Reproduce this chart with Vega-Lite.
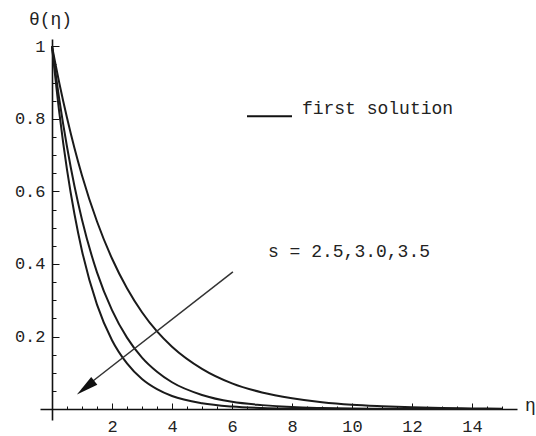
{
  "$schema": "https://vega.github.io/schema/vega-lite/v6.json",
  "width": 477,
  "height": 381,
  "autosize": {"type": "none"},
  "padding": {"left": 40, "top": 39, "right": 19, "bottom": 16},
  "background": "white",
  "config": {
    "view": {"stroke": null},
    "font": "Liberation Mono",
    "text": {"font": "Liberation Mono", "fontSize": 18, "color": "#222"}
  },
  "datasets": {
    "curves": [
      {"s": "2.5", "eta": 0, "theta": 1}, {"s": "2.5", "eta": 0.25, "theta": 0.896}, {"s": "2.5", "eta": 0.5, "theta": 0.803}, {"s": "2.5", "eta": 0.75, "theta": 0.719}, {"s": "2.5", "eta": 1, "theta": 0.644}, {"s": "2.5", "eta": 1.5, "theta": 0.517}, {"s": "2.5", "eta": 2, "theta": 0.415}, {"s": "2.5", "eta": 2.5, "theta": 0.333}, {"s": "2.5", "eta": 3, "theta": 0.267}, {"s": "2.5", "eta": 3.5, "theta": 0.214}, {"s": "2.5", "eta": 4, "theta": 0.172}, {"s": "2.5", "eta": 5, "theta": 0.111}, {"s": "2.5", "eta": 6, "theta": 0.071}, {"s": "2.5", "eta": 7, "theta": 0.046}, {"s": "2.5", "eta": 8, "theta": 0.03}, {"s": "2.5", "eta": 9, "theta": 0.019}, {"s": "2.5", "eta": 10, "theta": 0.012}, {"s": "2.5", "eta": 11, "theta": 0.008}, {"s": "2.5", "eta": 12, "theta": 0.005}, {"s": "2.5", "eta": 13, "theta": 0.003}, {"s": "2.5", "eta": 14, "theta": 0.002}, {"s": "2.5", "eta": 15, "theta": 0.001},
      {"s": "3.0", "eta": 0, "theta": 1}, {"s": "3.0", "eta": 0.25, "theta": 0.85}, {"s": "3.0", "eta": 0.5, "theta": 0.723}, {"s": "3.0", "eta": 0.75, "theta": 0.614}, {"s": "3.0", "eta": 1, "theta": 0.522}, {"s": "3.0", "eta": 1.5, "theta": 0.377}, {"s": "3.0", "eta": 2, "theta": 0.273}, {"s": "3.0", "eta": 2.5, "theta": 0.197}, {"s": "3.0", "eta": 3, "theta": 0.142}, {"s": "3.0", "eta": 3.5, "theta": 0.103}, {"s": "3.0", "eta": 4, "theta": 0.074}, {"s": "3.0", "eta": 5, "theta": 0.039}, {"s": "3.0", "eta": 6, "theta": 0.02}, {"s": "3.0", "eta": 7, "theta": 0.011}, {"s": "3.0", "eta": 8, "theta": 0.0055}, {"s": "3.0", "eta": 9, "theta": 0.003}, {"s": "3.0", "eta": 10, "theta": 0.0015}, {"s": "3.0", "eta": 11, "theta": 0.001}, {"s": "3.0", "eta": 12, "theta": 0.0005}, {"s": "3.0", "eta": 13, "theta": 0.0002}, {"s": "3.0", "eta": 14, "theta": 0.0001}, {"s": "3.0", "eta": 15, "theta": 0},
      {"s": "3.5", "eta": 0, "theta": 1}, {"s": "3.5", "eta": 0.25, "theta": 0.813}, {"s": "3.5", "eta": 0.5, "theta": 0.66}, {"s": "3.5", "eta": 0.75, "theta": 0.537}, {"s": "3.5", "eta": 1, "theta": 0.436}, {"s": "3.5", "eta": 1.5, "theta": 0.288}, {"s": "3.5", "eta": 2, "theta": 0.19}, {"s": "3.5", "eta": 2.5, "theta": 0.126}, {"s": "3.5", "eta": 3, "theta": 0.083}, {"s": "3.5", "eta": 3.5, "theta": 0.055}, {"s": "3.5", "eta": 4, "theta": 0.036}, {"s": "3.5", "eta": 5, "theta": 0.016}, {"s": "3.5", "eta": 6, "theta": 0.007}, {"s": "3.5", "eta": 7, "theta": 0.003}, {"s": "3.5", "eta": 8, "theta": 0.0013}, {"s": "3.5", "eta": 9, "theta": 0.0006}, {"s": "3.5", "eta": 10, "theta": 0.0002}, {"s": "3.5", "eta": 11, "theta": 0.0001}, {"s": "3.5", "eta": 12, "theta": 0}, {"s": "3.5", "eta": 13, "theta": 0}, {"s": "3.5", "eta": 14, "theta": 0}, {"s": "3.5", "eta": 15, "theta": 0}
    ],
    "arrow": [
      {"eta": 6.03, "theta": 0.378, "order": 1},
      {"eta": 1.0, "theta": 0.054, "order": 2}
    ],
    "arrowhead": [
      {"eta": 1.12, "theta": 0.059}
    ],
    "legendline": [
      {"eta": 6.5, "eta2": 8.0, "theta": 0.807}
    ],
    "notes": [
      {"eta": 8.33, "theta": 0.826, "text": "first solution"},
      {"eta": 7.2, "theta": 0.434, "text": "s = 2.5,3.0,3.5"}
    ]
  },
  "resolve": {
    "scale": {"x": "independent", "y": "independent"},
    "axis": {"x": "independent", "y": "independent"}
  },
  "layer": [
    {
      "encoding": {
        "x": {
          "field": "eta", "type": "quantitative",
          "scale": {"domain": [-0.4, 15.5], "nice": false, "zero": false},
          "axis": {
            "orient": "bottom",
            "offset": -11,
            "values": [2, 4, 6, 8, 10, 12, 14],
            "format": "d",
            "tickSize": -6,
            "tickColor": "#111",
            "tickWidth": 1,
            "domainColor": "#111",
            "domainWidth": 1.6,
            "labelFont": "Liberation Mono",
            "labelFontSize": 17,
            "labelColor": "#222",
            "labelPadding": 15,
            "labelFlush": false,
            "grid": false,
            "title": "η",
            "titleFont": "Liberation Mono",
            "titleFontSize": 18,
            "titleFontWeight": "normal",
            "titleColor": "#222",
            "titleX": 490,
            "titleY": -4,
            "titleAlign": "center",
            "titleBaseline": "middle",
            "titleAngle": 0
          }
        },
        "y": {
          "field": "theta", "type": "quantitative",
          "scale": {"domain": [-0.03, 1.02], "nice": false, "zero": false},
          "axis": {
            "orient": "left",
            "offset": -12,
            "values": [0.2, 0.4, 0.6, 0.8, 1],
            "labelExpr": "datum.value == 1 ? '1' : format(datum.value, '.1f')",
            "tickSize": -7,
            "tickColor": "#111",
            "tickWidth": 1,
            "domainColor": "#111",
            "domainWidth": 1.6,
            "labelFont": "Liberation Mono",
            "labelFontSize": 17,
            "labelColor": "#222",
            "labelPadding": 14,
            "labelFlush": false,
            "grid": false,
            "title": "θ(η)",
            "titleFont": "Liberation Mono",
            "titleFontSize": 18,
            "titleFontWeight": "normal",
            "titleColor": "#222",
            "titleX": -2,
            "titleY": -20,
            "titleAlign": "center",
            "titleBaseline": "middle",
            "titleAngle": 0
          }
        }
      },
      "layer": [
        {
          "data": {"name": "curves"},
          "mark": {"type": "line", "interpolate": "monotone", "strokeWidth": 2, "color": "#1a1a1a", "clip": true},
          "encoding": {"detail": {"field": "s"}}
        },
        {
          "data": {"name": "arrow"},
          "mark": {"type": "line", "strokeWidth": 1.5, "color": "#333"},
          "encoding": {"order": {"field": "order"}}
        },
        {
          "data": {"name": "arrowhead"},
          "mark": {"type": "point", "shape": "M0,-1L0.45,1L-0.45,1Z", "filled": true, "color": "#111", "opacity": 1, "size": 484, "angle": 232}
        },
        {
          "data": {"name": "legendline"},
          "mark": {"type": "rule", "strokeWidth": 2, "color": "#111"},
          "encoding": {"x2": {"field": "eta2"}}
        },
        {
          "data": {"name": "notes"},
          "mark": {"type": "text", "align": "left", "baseline": "middle"},
          "encoding": {"text": {"field": "text"}}
        }
      ]
    },
    {
      "data": {"name": "arrowhead"},
      "mark": {"type": "point", "opacity": 0},
      "encoding": {
        "x": {
          "field": "eta", "type": "quantitative",
          "scale": {"domain": [-0.4, 15.5], "nice": false, "zero": false},
          "axis": {
            "orient": "bottom",
            "offset": -11,
            "values": [0.5, 1, 1.5, 2.5, 3, 3.5, 4.5, 5, 5.5, 6.5, 7, 7.5, 8.5, 9, 9.5, 10.5, 11, 11.5, 12.5, 13, 13.5, 14.5, 15],
            "labels": false,
            "domain": false,
            "tickSize": -3,
            "tickColor": "#111",
            "tickWidth": 1,
            "grid": false,
            "title": null
          }
        },
        "y": {
          "field": "theta", "type": "quantitative",
          "scale": {"domain": [-0.03, 1.02], "nice": false, "zero": false},
          "axis": {
            "orient": "left",
            "offset": -12,
            "values": [0.05, 0.1, 0.15, 0.25, 0.3, 0.35, 0.45, 0.5, 0.55, 0.65, 0.7, 0.75, 0.85, 0.9, 0.95],
            "labels": false,
            "domain": false,
            "tickSize": -4,
            "tickColor": "#111",
            "tickWidth": 1,
            "grid": false,
            "title": null
          }
        }
      }
    }
  ]
}
